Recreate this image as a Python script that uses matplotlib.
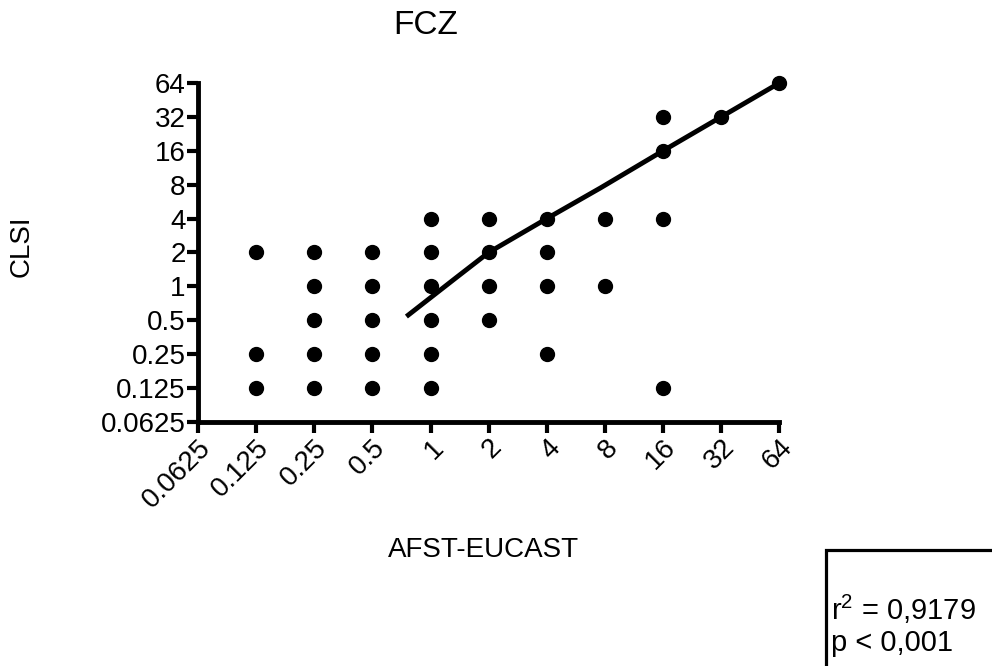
import numpy as np
import matplotlib.pyplot as plt
from matplotlib.patches import Rectangle

plt.rcParams['font.family'] = ['Liberation Sans', 'DejaVu Sans']
plt.rcParams['mathtext.fontset'] = 'custom'
plt.rcParams['mathtext.rm'] = 'Liberation Sans'

# Données (CMI en mg/L)
ticks = [0.0625, 0.125, 0.25, 0.5, 1, 2, 4, 8, 16, 32, 64]
tick_labels = ["0.0625", "0.125", "0.25", "0.5", "1", "2", "4", "8", "16", "32", "64"]

eucast = [0.125, 0.125, 0.125,
          0.25, 0.25, 0.25, 0.25, 0.25,
          0.5, 0.5, 0.5, 0.5, 0.5,
          1, 1, 1, 1, 1, 1,
          2, 2, 2, 2,
          4, 4, 4, 4,
          8, 8,
          16, 16, 16, 16,
          32, 64]
clsi = [2, 0.25, 0.125,
        2, 1, 0.5, 0.25, 0.125,
        2, 1, 0.5, 0.25, 0.125,
        4, 2, 1, 0.5, 0.25, 0.125,
        4, 2, 1, 0.5,
        4, 2, 1, 0.25,
        4, 1,
        32, 16, 4, 0.125,
        32, 64]

# Courbe de régression
fit_x = [0.75, 1.37, 2, 4, 7.6, 16, 32, 64]
fit_y = [0.54, 1.21, 2, 4, 7.5, 16, 32, 64]

fig = plt.figure(figsize=(9.92, 6.66), dpi=100)
ax = fig.add_axes([0.1996, 0.3664, 0.586, 0.509])

ax.plot(fit_x, fit_y, color='black', lw=3.5, solid_capstyle='butt', zorder=2)
ax.plot(eucast, clsi, 'o', color='black', ms=10, zorder=3, clip_on=False)

ax.set_xscale('log', base=2)
ax.set_yscale('log', base=2)
ax.set_xlim(0.0625, 64)
ax.set_ylim(0.0625, 64)
ax.set_xticks(ticks)
ax.set_yticks(ticks)
ax.minorticks_off()
ax.set_xticklabels(tick_labels, rotation=45, ha='right', rotation_mode='anchor', fontsize=20)
ax.set_yticklabels(tick_labels, fontsize=20)

for s in ['top', 'right']:
    ax.spines[s].set_visible(False)
for s in ['left', 'bottom']:
    ax.spines[s].set_linewidth(3.5)
ax.tick_params(width=3, length=8, pad=1)

fig.text(426 / 992, 1 - 25 / 666, "FCZ", ha='center', va='center', fontsize=24)
fig.text(484 / 992, 1 - 550 / 666, "AFST-EUCAST", ha='center', va='center', fontsize=20)
fig.text(22 / 992, 1 - 246 / 666, "CLSI", ha='center', va='center', rotation=90, fontsize=20)

# Encadré statistique
fig.patches.append(Rectangle((826 / 992, -0.05), 0.3, 1 - 550 / 666 + 0.05,
                             transform=fig.transFigure, fill=False, lw=2.3,
                             edgecolor='black'))
fig.text(831 / 992, 1 - 609 / 666, r"r$^{\mathrm{2}}$ = 0,9179", ha='left', va='center', fontsize=21)
fig.text(831 / 992, 1 - 643 / 666, "p < 0,001", ha='left', va='center', fontsize=21)

plt.savefig("out.png", dpi=100)
